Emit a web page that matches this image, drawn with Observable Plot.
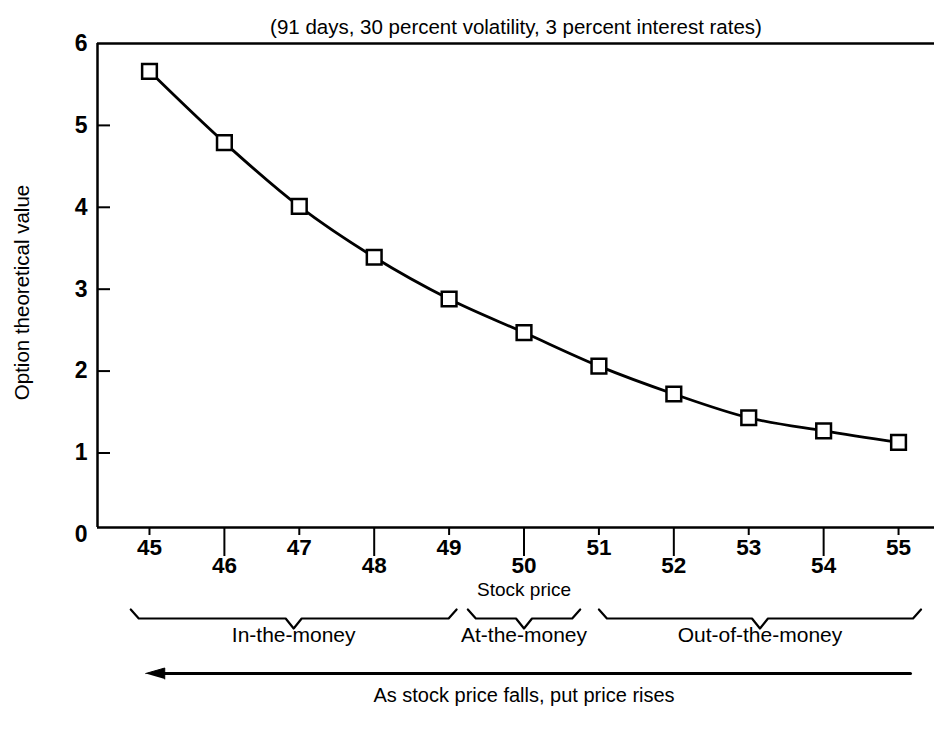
<!DOCTYPE html>
<html><head><meta charset="utf-8">
<script src="https://cdn.jsdelivr.net/npm/d3@7"></script>
<script src="https://cdn.jsdelivr.net/npm/@observablehq/plot@0.6"></script>
<style>body{margin:0;background:#fff} svg{display:block}</style>
</head><body><div id="chart"></div>
<script>
// ---- data ----
const stockPrice = [45, 46, 47, 48, 49, 50, 51, 52, 53, 54, 55];
const optionValue = [5.66, 4.79, 4.01, 3.39, 2.88, 2.47, 2.06, 1.72, 1.43, 1.27, 1.13];
const yTicks = [0, 1, 2, 3, 4, 5, 6];
const xTicksHigh = [45, 47, 49, 51, 53, 55];
const xTicksLow = [46, 48, 50, 52, 54];
const zoneLabels = ["In-the-money", "At-the-money", "Out-of-the-money"];
const zoneStart = [44.75, 49.25, 51.0];
const zoneEnd = [49.1, 50.75, 55.3];
const titleText = "(91 days, 30 percent volatility, 3 percent interest rates)";
const yLabelText = "Option theoretical value";
const xLabelText = "Stock price";
const arrowText = "As stock price falls, put price rises";
const arrowFrom = 55.16, arrowTo = 44.95;

// ---- layout ----
const W = 934, H = 734, mL = 97, mR = 0, mT = 43, mB = 207;
const xDomain = [44.306, 55.48];
const yDomain = [0.09, 6];
const pxPerY = (H - mT - mB) / (yDomain[1] - yDomain[0]);
const pxPerX = (W - mL - mR) / (xDomain[1] - xDomain[0]);
const yAt = px => yDomain[1] - (px - mT) / pxPerY;
const xu = px => px / pxPerX;

const braces = [];
zoneLabels.forEach((z, i) => {
  const a = zoneStart[i], b = zoneEnd[i], m = (a + b) / 2, d = xu(8);
  [[a, 609], [a + d, 618], [m - d, 618], [m, 628], [m + d, 618], [b - d, 618], [b, 609]]
    .forEach(([x, py]) => braces.push({zone: z, x, y: yAt(py)}));
});
const arrowY = yAt(673);
const arrowLine = [{x: arrowFrom, y: arrowY}, {x: arrowTo + xu(14), y: arrowY}];
const arrowHead = [
  {x: arrowTo, y: arrowY},
  {x: arrowTo + xu(19), y: yAt(667.5)},
  {x: arrowTo + xu(19), y: yAt(678.5)}
];
const xMid = (stockPrice[0] + stockPrice[stockPrice.length - 1]) / 2;
const font = "Liberation Sans, Arial, Helvetica, sans-serif";

const chart = Plot.plot({
  width: W, height: H,
  marginLeft: mL, marginRight: mR, marginTop: mT, marginBottom: mB,
  style: {fontFamily: font, background: "#fff", color: "#000"},
  x: {domain: xDomain, axis: null},
  y: {domain: yDomain, axis: null},
  marks: [
    // frame (left, top, bottom)
    Plot.ruleY([yDomain[0], yDomain[1]], {stroke: "#000", strokeWidth: 2.5}),
    Plot.ruleX([xDomain[0]], {stroke: "#000", strokeWidth: 2.5}),
    // y ticks pointing inward
    Plot.tickY(yTicks.filter(v => v > 0 && v < 6), {y: d => d, stroke: "#000", strokeWidth: 2, insetRight: W - mL - mR - 13}),
    Plot.text(yTicks, {y: d => d, text: d => String(d), frameAnchor: "left", textAnchor: "end", dx: -10, fontSize: 23, fontWeight: "bold"}),
    // x ticks, alternating
    Plot.ruleX(xTicksHigh, {x: d => d, y1: yDomain[0], y2: yAt(535), stroke: "#000", strokeWidth: 2}),
    Plot.ruleX(xTicksLow, {x: d => d, y1: yDomain[0], y2: yAt(556), stroke: "#000", strokeWidth: 2}),
    Plot.text(xTicksHigh, {x: d => d, text: d => String(d), frameAnchor: "bottom", dy: 27, fontSize: 22.5, fontWeight: "bold"}),
    Plot.text(xTicksLow, {x: d => d, text: d => String(d), frameAnchor: "bottom", dy: 45.5, fontSize: 22.5, fontWeight: "bold"}),
    // curve and points
    Plot.line(stockPrice, {x: stockPrice, y: optionValue, curve: "monotone-x", stroke: "#000", strokeWidth: 2.8}),
    Plot.dot(stockPrice, {x: stockPrice, y: optionValue, symbol: "square", r: 8.3, fill: "#fff", stroke: "#000", strokeWidth: 2.5}),
    // titles
    Plot.text([titleText], {text: d => d, frameAnchor: "top", dy: -24, fontSize: 20.5}),
    Plot.text([yLabelText], {text: d => d, frameAnchor: "left", textAnchor: "middle", rotate: -90, dx: -75, dy: 7, fontSize: 20.5}),
    Plot.text([xLabelText], {x: () => xMid, text: d => d, frameAnchor: "bottom", dy: 68.5, fontSize: 19}),
    // braces and zone labels
    Plot.line(braces, {x: "x", y: "y", z: "zone", stroke: "#000", strokeWidth: 2.2, curve: "linear"}),
    Plot.text(zoneLabels, {x: (d, i) => (zoneStart[i] + zoneEnd[i]) / 2, text: d => d, frameAnchor: "bottom", dy: 114, fontSize: 21}),
    // arrow
    Plot.line(arrowLine, {x: "x", y: "y", stroke: "#000", strokeWidth: 3}),
    Plot.line(arrowHead, {x: "x", y: "y", fill: "#000", stroke: "#000", strokeWidth: 1}),
    Plot.text([arrowText], {x: () => xMid, text: d => d, frameAnchor: "bottom", dy: 174, fontSize: 20})
  ]
});
document.getElementById("chart").appendChild(chart);
</script>
</body></html>
